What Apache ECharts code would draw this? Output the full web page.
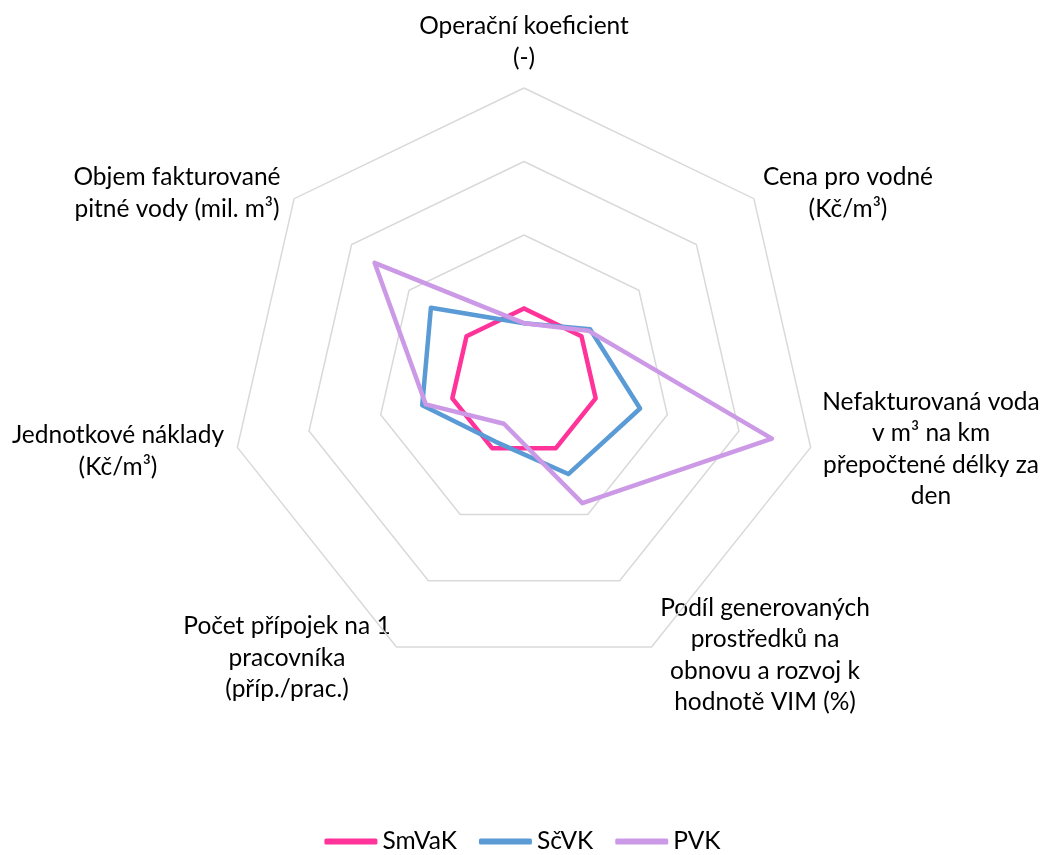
<!DOCTYPE html>
<html>
<head>
<meta charset="utf-8">
<script src="https://cdn.jsdelivr.net/npm/echarts@6/dist/echarts.min.js"></script>
<style>
  html, body { margin: 0; padding: 0; background: #fff; }
  #chart { width: 1045px; height: 855px; }
</style>
</head>
<body>
<div id="chart"></div>
<script>
// axes in the order they are read clockwise from the top
var axisNames = [
    'Operační koeficient\n(-)',
    'Cena pro vodné\n(Kč/m³)',
    'Nefakturovaná voda\nv m³ na km\npřepočtené délky za\nden',
    'Podíl generovaných\nprostředků na\nobnovu a rozvoj k\nhodnotě VIM (%)',
    'Počet přípojek na 1\npracovníka\n(příp./prac.)',
    'Jednotkové náklady\n(Kč/m³)',
    'Objem fakturované\npitné vody (mil. m³)'
];
var seriesNames = ['SmVaK', 'SčVK', 'PVK'];
var smvak = [1, 1, 1, 1, 1, 1, 1];
var scvk = [0.80, 1.15, 1.62, 1.39, 0.90, 1.42, 1.62];
var pvk = [0.80, 1.12, 3.46, 1.83, 0.63, 1.37, 2.60];
var axisMax = 4;

var colors = ['#FF3399', '#5B9BD5', '#CC99E6'];
var font = 'Lato';
var fontSize = 24.5;

// label centres (layout only)
var labelPos = [
    [524, 42], [848, 193], [931, 449], [765, 655],
    [287, 658], [118, 451], [177, 193]
];

// echarts runs the indicators counter-clockwise, so flip the order after the first one
function ccw(arr) {
    return [arr[0]].concat(arr.slice(1).reverse());
}

var myChart = echarts.init(document.getElementById('chart'));

var indicators = ccw(axisNames).map(function (n) {
    return { name: n, min: 0, max: axisMax };
});

var labels = axisNames.map(function (n, i) {
    return {
        type: 'text',
        x: labelPos[i][0],
        y: labelPos[i][1],
        style: {
            text: n,
            font: fontSize + 'px ' + font,
            fill: '#000',
            align: 'center',
            verticalAlign: 'middle',
            lineHeight: 31.5
        }
    };
});

var option = {
    animation: false,
    color: colors,
    legend: {
        data: seriesNames,
        top: 829,
        left: 'center',
        padding: 0,
        itemGap: 22,
        itemWidth: 53,
        itemHeight: 6,
        icon: 'roundRect',
        textStyle: { fontFamily: font, fontSize: fontSize, color: '#000' }
    },
    radar: {
        center: [524, 382],
        radius: 294,
        startAngle: 90,
        splitNumber: 4,
        shape: 'polygon',
        axisName: { show: false },
        axisLine: { show: false },
        axisTick: { show: false },
        axisLabel: { show: false },
        splitArea: { show: false },
        splitLine: { lineStyle: { color: '#d9d9d9', width: 1.5 } },
        indicator: indicators
    },
    graphic: labels,
    series: [{
        type: 'radar',
        symbol: 'none',
        lineStyle: { width: 4.5, join: 'round', cap: 'round' },
        data: [
            { name: seriesNames[0], value: ccw(smvak), lineStyle: { color: colors[0] } },
            { name: seriesNames[1], value: ccw(scvk), lineStyle: { color: colors[1] } },
            { name: seriesNames[2], value: ccw(pvk), lineStyle: { color: colors[2] } }
        ]
    }]
};

myChart.setOption(option);
</script>
</body>
</html>
